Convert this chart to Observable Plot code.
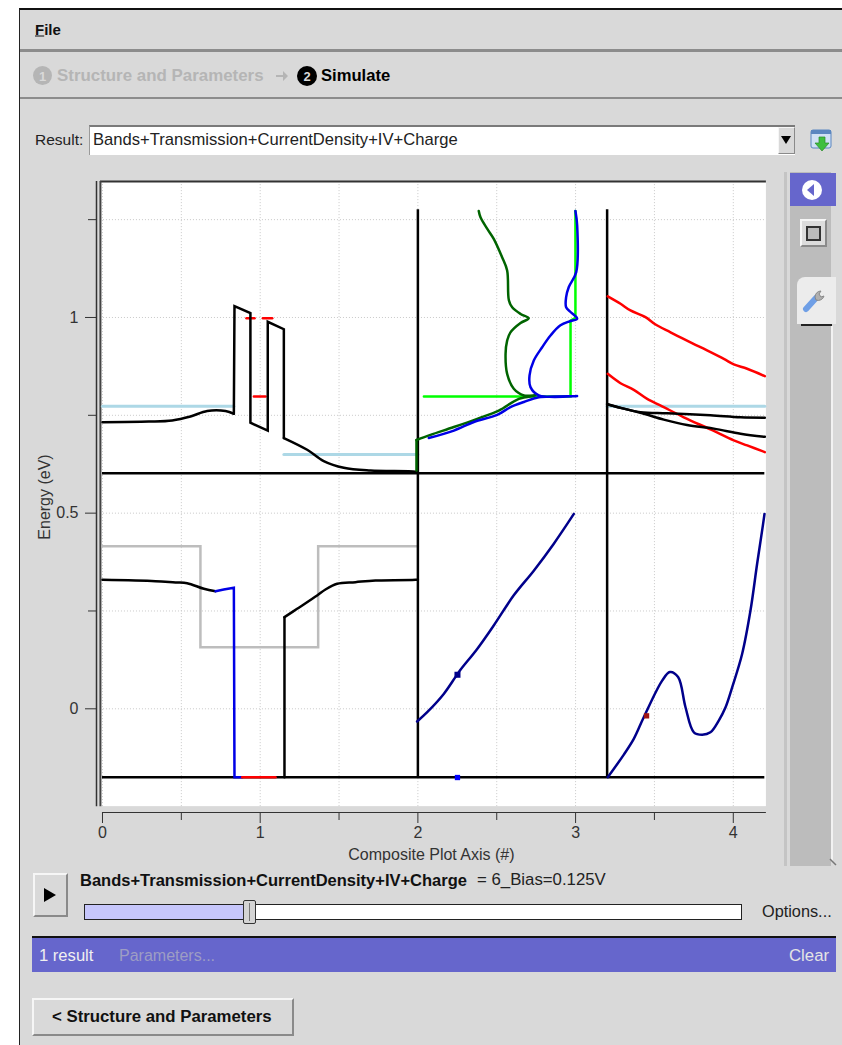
<!DOCTYPE html>
<html>
<head>
<meta charset="utf-8">
<script src="https://cdn.jsdelivr.net/npm/d3@7"></script>
<script src="https://cdn.jsdelivr.net/npm/@observablehq/plot@0.6"></script>
<style>
html,body{margin:0;padding:0;background:#fff;}
body{width:842px;height:1045px;overflow:hidden;position:relative;font-family:"Liberation Sans",Arimo,Helvetica,Arial,sans-serif;color:#222;}
.a{position:absolute;white-space:nowrap;}
.t{position:absolute;white-space:nowrap;line-height:1;transform:translateY(-50%);}
.btn{position:absolute;box-sizing:border-box;background:#d9d9d9;border:2px solid;border-color:#f6f6f6 #8a8a8a #8a8a8a #f6f6f6;}
#chart{position:absolute;left:0;top:160px;}
#chart svg{background:transparent;display:block;}
</style>
</head>
<body>
<div class="a" style="left:19px;top:8px;width:823px;height:1037px;background:#d9d9d9;border-left:1px solid #222;border-top:2px solid #111;box-sizing:border-box;"></div>

<!-- menu and wizard -->
<div class="t" style="left:35px;top:29px;font-size:15px;font-weight:bold;color:#111;"><u>F</u>ile</div>
<div class="a" style="left:20px;top:49px;width:822px;height:3px;background:#8c8c8c;"></div>
<div class="a" style="left:33px;top:66px;width:19px;height:19px;border-radius:50%;background:#b5b5b5;"></div>
<div class="t" style="left:33px;top:76px;width:19px;text-align:center;font-size:13px;font-weight:bold;color:#d9d9d9;">1</div>
<div class="t" style="left:57px;top:76px;font-size:16.9px;font-weight:bold;color:#b5b5b5;">Structure and Parameters</div>
<svg class="a" style="left:275px;top:70px;" width="14" height="12"><path d="M1 5h7V1l5 5-5 5V7H1z" fill="#b5b5b5"/></svg>
<div class="a" style="left:297px;top:66px;width:20px;height:20px;border-radius:50%;background:#000;"></div>
<div class="t" style="left:297px;top:76px;width:20px;text-align:center;font-size:13px;font-weight:bold;color:#d9d9d9;">2</div>
<div class="t" style="left:321px;top:76px;font-size:16.6px;font-weight:bold;color:#000;">Simulate</div>
<div class="a" style="left:20px;top:97px;width:822px;height:2px;background:#8c8c8c;"></div>

<!-- result selector -->
<div class="t" style="left:35px;top:140px;font-size:15.5px;">Result:</div>
<div class="a" style="left:89px;top:125px;width:706px;height:30px;background:#fff;border-top:2px solid #7a7a7a;border-left:1px solid #9a9a9a;box-sizing:border-box;"></div>
<div class="t" style="left:93px;top:140px;font-size:16.6px;">Bands+Transmission+CurrentDensity+IV+Charge</div>
<div class="btn" style="left:778px;top:127px;width:17px;height:27px;border-width:1px;"></div>
<svg class="a" style="left:780px;top:135px;" width="12" height="10"><path d="M1 1h10L6 9z" fill="#000"/></svg>
<svg class="a" style="left:810px;top:129px;" width="23" height="24"><rect x="1" y="1" width="20" height="18" rx="2" fill="#cfe0f5" stroke="#5a86c0"/><rect x="1" y="1" width="20" height="4" fill="#5a86c0"/><path d="M9 8h6v6h4l-7 8-7-8h4z" fill="#3fbf3f" stroke="#2a8a2a" stroke-width=".7"/></svg>

<!-- right side tool panel -->
<div class="a" style="left:784px;top:172px;width:3px;height:694px;background:#c4c4c4;"></div>
<div class="a" style="left:790px;top:172px;width:41px;height:694px;background:#bcbcbc;"></div>
<div class="a" style="left:831px;top:326px;width:1.5px;height:535px;background:#f2f2f2;"></div>
<svg class="a" style="left:829px;top:858px;" width="9" height="9"><path d="M1 1L7 7" stroke="#777" stroke-width="1.5"/></svg>
<div class="a" style="left:790px;top:173px;width:46px;height:33px;background:#6666cc;"></div>
<svg class="a" style="left:802px;top:180px;" width="20" height="20"><circle cx="10" cy="10" r="10" fill="#fff"/><path d="M12 4v12L5 10z" fill="#6666cc"/></svg>
<div class="btn" style="left:800px;top:219px;width:27px;height:28px;background:#dcdcdc;"></div>
<div class="a" style="left:806px;top:226px;width:11px;height:11px;border:2px solid #333;background:#bbb;"></div>
<div class="a" style="left:797px;top:277px;width:39px;height:47px;background:#ececec;border-top-left-radius:8px;"></div>
<div class="a" style="left:801px;top:324px;width:31px;height:2px;background:#222;"></div>
<svg class="a" style="left:802px;top:287px;" width="26" height="26"><path d="M4 22 L14 11" stroke="#6f9fe6" stroke-width="6" stroke-linecap="round"/><path d="M13 10 a6 6 0 0 1 6-6 l-2 3 2 3 3-1 a6 6 0 0 1-8 4z" fill="#b0b0b0" stroke="#888"/></svg>

<div id="chart"></div>

<!-- animation controls -->
<div class="btn" style="left:33px;top:873px;width:35px;height:44px;"></div>
<svg class="a" style="left:43px;top:887px;" width="14" height="16"><path d="M1 1l12 7-12 7z" fill="#000"/></svg>
<div class="t" style="left:80px;top:880px;font-size:16.5px;font-weight:bold;color:#111;">Bands+Transmission+CurrentDensity+IV+Charge</div>
<div class="t" style="left:477px;top:880px;font-size:16.8px;">= 6_Bias=0.125V</div>
<div class="a" style="left:84px;top:904px;width:658px;height:16px;background:#fff;border:1px solid #222;box-sizing:border-box;"></div>
<div class="a" style="left:85px;top:905px;width:158px;height:14px;background:#c6c6fb;"></div>
<div class="a" style="left:243px;top:900px;width:13px;height:24px;background:#d4d4d4;border:1px solid #333;box-sizing:border-box;border-radius:2px;"></div>
<div class="a" style="left:249px;top:903px;width:1px;height:18px;background:#777;"></div>
<div class="t" style="left:762px;top:911px;font-size:16.3px;">Options...</div>
<div class="a" style="left:32px;top:936px;width:804px;height:36px;background:#6666cc;border-top:2px solid #111;box-sizing:border-box;"></div>
<div class="t" style="left:39px;top:956px;font-size:16.6px;color:#f0f0f0;">1 result</div>
<div class="t" style="left:119px;top:956px;font-size:16px;color:#9d9dc4;">Parameters...</div>
<div class="t" style="left:789px;top:956px;font-size:16.8px;color:#e4e4e4;">Clear</div>
<div class="btn" style="left:32px;top:998px;width:262px;height:38px;"></div>
<div class="t" style="left:52px;top:1017px;font-size:16.8px;font-weight:bold;color:#111;">&lt; Structure and Parameters</div>

<script>
// --- axis ticks
const xTicks = [0, 0.5, 1, 1.5, 2, 2.5, 3, 3.5, 4];
const yTicks = [0, 0.25, 0.5, 0.75, 1, 1.25];
const xLabels = [0, 1, 2, 3, 4];
const yLabels = [0, 0.5, 1];
const xMinor = [0.5, 1.5, 2.5, 3.5];
const yMinor = [0.25, 0.75, 1.25];

// --- panel extents (data units)
const xOuter = -0.038, xInner = -0.013, xMax = 4.21;
const yAxisLine = -0.265, yFloor = -0.25, yCeil = 1.3475;
const refConduction = 0.602, refValence = -0.175, dividerTop = 1.275;
const dividers = [2, 3.2];

// --- band diagram, conduction band
const cbLeadX = [0, 0.294, 0.442, 0.558, 0.664, 0.780, 0.833];
const cbLeadY = [0.7325, 0.734, 0.737, 0.747, 0.761, 0.761, 0.754];
const cbBarrierX = [0.833, 0.837, 0.938, 0.938, 1.048, 1.048, 1.150, 1.150];
const cbBarrierY = [0.754, 1.029, 1.011, 0.731, 0.711, 0.989, 0.970, 0.692];
const cbTailX = [1.150, 1.298, 1.403, 1.530, 1.699, 1.985, 2];
const cbTailY = [0.692, 0.662, 0.633, 0.616, 0.609, 0.606, 0.604];

// --- band diagram, valence band pieces
const vbLeftX = [0, 0.336, 0.463, 0.537, 0.643, 0.717];
const vbLeftY = [0.3295, 0.3262, 0.3228, 0.3211, 0.3066, 0.3006];
const vbBlueX = [0.717, 0.769, 0.833, 0.837, 0.886];
const vbBlueY = [0.3006, 0.3049, 0.3092, -0.1747, -0.1747];
const vbRedX = [0.886, 1.097];
const vbRedY = [-0.1747, -0.1747];
const vbWallX = [1.154, 1.154];
const vbWallY = [-0.1747, 0.2342];
const vbRightX = [1.154, 1.234, 1.361, 1.414, 1.488, 1.604, 1.731, 1.985, 2];
const vbRightY = [0.2342, 0.2555, 0.2896, 0.3049, 0.3194, 0.3236, 0.3279, 0.3295, 0.3295];

// --- doping step profile
const dopeX = [0, 0.621, 0.621, 1.3676, 1.3676, 2];
const dopeY = [0.4156, 0.4156, 0.1575, 0.1575, 0.4156, 0.4156];

// --- Fermi levels
const fermiA = {x: [0, 0.833], y: [0.773, 0.773]};
const fermiB = {x: [1.15, 2], y: [0.650, 0.650]};
const fermiC = {x: [3.2, 4.2], y: [0.773, 0.773]};

// --- resonance levels
const levelA = {x: [0.913, 0.964], y: [0.998, 0.998]};
const levelB = {x: [1.017, 1.076], y: [0.998, 0.998]};
const levelC = {x: [0.960, 1.034], y: [0.798, 0.798]};

// --- transmission panel
const transStemX = [1.991, 1.991];
const transStemY = [0.609, 0.687];
const transDarkX = [1.991, 2.080, 2.228, 2.376, 2.513, 2.640, 2.746, 2.672, 2.608, 2.566, 2.556, 2.566, 2.587, 2.651, 2.703, 2.651, 2.598, 2.577, 2.566, 2.534, 2.481, 2.439, 2.397, 2.386];
const transDarkY = [0.687, 0.700, 0.720, 0.741, 0.762, 0.792, 0.801, 0.801, 0.818, 0.856, 0.907, 0.941, 0.962, 0.986, 0.998, 1.009, 1.026, 1.044, 1.120, 1.154, 1.201, 1.227, 1.256, 1.272];
const transLimeX = [2.038, 2.968, 2.968, 2.999, 2.999];
const transLimeY = [0.798, 0.798, 0.992, 0.999, 1.272];
const transBlueX = [2.069, 2.228, 2.355, 2.503, 2.587, 2.672, 2.767, 3.010, 2.767, 2.714, 2.708, 2.735, 2.788, 2.841, 2.904, 2.968, 3.010, 2.968, 2.940, 2.940, 2.957, 3.004, 3.010, 2.999];
const transBlueY = [0.692, 0.711, 0.733, 0.751, 0.771, 0.784, 0.796, 0.799, 0.801, 0.822, 0.852, 0.890, 0.924, 0.954, 0.980, 0.991, 0.997, 1.014, 1.026, 1.052, 1.078, 1.116, 1.235, 1.272];

// --- current density panel
const jTopX = [3.204, 3.285, 3.348, 3.443, 3.507, 3.602, 3.792, 3.940, 4.003, 4.088, 4.200];
const jTopY = [1.054, 1.035, 1.018, 1.001, 0.982, 0.962, 0.924, 0.894, 0.880, 0.869, 0.850];
const jLowX = [3.204, 3.285, 3.369, 3.454, 3.549, 3.686, 3.855, 4.003, 4.088, 4.200];
const jLowY = [0.856, 0.832, 0.815, 0.792, 0.773, 0.745, 0.714, 0.686, 0.673, 0.656];
const jBlackAX = [3.200, 3.285, 3.412, 3.581, 3.855, 4.046, 4.200];
const jBlackAY = [0.779, 0.769, 0.758, 0.755, 0.750, 0.745, 0.744];
const jBlackBX = [3.200, 3.306, 3.433, 3.559, 3.707, 3.877, 4.046, 4.200];
const jBlackBY = [0.778, 0.767, 0.754, 0.739, 0.725, 0.716, 0.703, 0.695];

// --- I-V curves
const ivMidX = [1.995, 2.059, 2.164, 2.238, 2.270, 2.376, 2.481, 2.608, 2.735, 2.862, 2.989];
const ivMidY = [-0.0325, -0.0086, 0.038, 0.081, 0.0996, 0.153, 0.213, 0.290, 0.353, 0.422, 0.498];
const ivRightX = [3.204, 3.306, 3.369, 3.433, 3.549, 3.598, 3.650, 3.697, 3.750, 3.803, 3.855, 3.908, 3.951, 3.993, 4.056, 4.109, 4.151, 4.183, 4.198];
const ivRightY = [-0.175, -0.117, -0.077, -0.021, 0.072, 0.094, 0.081, 0.004, -0.060, -0.066, -0.060, -0.030, 0.004, 0.055, 0.140, 0.251, 0.370, 0.456, 0.498];

// --- current-bias markers
const markMid = [[2.251, 0.087]];
const markFloor = [[2.251, -0.1756]];
const markRight = [[3.450, -0.018]];

const pts = (xs, ys) => d3.zip(xs, ys);
const line = (xs, ys, stroke, strokeWidth = 2.5) =>
  Plot.line(pts(xs, ys), {x: d => d[0], y: d => d[1], stroke, strokeWidth, strokeLinejoin: "miter", strokeMiterlimit: 3});
const smooth = (xs, ys, stroke, strokeWidth = 2.5) =>
  Plot.line(pts(xs, ys), {x: d => d[0], y: d => d[1], stroke, strokeWidth, curve: "catmull-rom"});
const seg = (s, stroke, w = 2.5) => line(s.x, s.y, stroke, w);
const square = (d, fill, r) => Plot.dot(d, {x: d => d[0], y: d => d[1], symbol: "square", r, fill, stroke: "none"});

const C = {black: "#000", grey: "#bdbdbd", light: "#add8e6", red: "#ff0000", blue: "#0000e6", navy: "#00008b", lime: "#00ff00", dark: "#006400"};

const chart = Plot.plot({
  width: 800,
  height: 720,
  marginLeft: 96,
  marginRight: 34.1,
  marginTop: 21,
  marginBottom: 68,
  style: {fontFamily: '"Liberation Sans", Arial, sans-serif', background: "transparent", color: "#333", fontSize: "16px", overflow: "visible"},
  x: {domain: [xOuter, xMax]},
  y: {domain: [yAxisLine, yCeil]},
  marks: [
    Plot.rect([0], {x1: xInner, x2: xMax, y1: yFloor, y2: yCeil, fill: "#fff"}),
    Plot.ruleX(xTicks, {y1: yFloor, y2: yCeil, stroke: "#c8c8c8", strokeDasharray: "1,2"}),
    Plot.ruleY(yTicks, {x1: xInner, x2: xMax, stroke: "#c8c8c8", strokeDasharray: "1,2"}),
    // frame lines
    Plot.ruleY([yCeil], {x1: xInner, x2: xMax, stroke: "#333", strokeWidth: 2}),
    Plot.ruleX([xOuter], {y1: yFloor, y2: yCeil, stroke: "#333", strokeWidth: 1.5}),
    Plot.ruleX([xInner], {y1: yFloor, y2: yCeil, stroke: "#444", strokeWidth: 2}),
    Plot.ruleY([yAxisLine], {x1: 0, x2: xMax, stroke: "#333", strokeWidth: 1}),
    // series
    line(dopeX, dopeY, C.grey),
    seg(fermiA, C.light, 3), seg(fermiB, C.light, 3), seg(fermiC, C.light, 3),
    Plot.ruleY([refConduction, refValence], {x1: 0, x2: 4.2, stroke: C.black, strokeWidth: 2.5}),
    Plot.ruleX(dividers, {y1: refValence, y2: dividerTop, stroke: C.black, strokeWidth: 2.5}),
    seg(levelA, C.red), seg(levelB, C.red), seg(levelC, C.red),
    smooth(cbLeadX, cbLeadY, C.black),
    line(cbBarrierX, cbBarrierY, C.black),
    smooth(cbTailX, cbTailY, C.black),
    smooth(vbLeftX, vbLeftY, C.black),
    line(vbWallX, vbWallY, C.black),
    smooth(vbRightX, vbRightY, C.black),
    line(vbBlueX, vbBlueY, C.blue),
    line(vbRedX, vbRedY, C.red),
    line(transLimeX, transLimeY, C.lime),
    line(transStemX, transStemY, C.dark),
    smooth(transDarkX, transDarkY, C.dark),
    smooth(transBlueX, transBlueY, C.blue),
    smooth(jTopX, jTopY, C.red),
    smooth(jLowX, jLowY, C.red),
    smooth(jBlackAX, jBlackAY, C.black),
    smooth(jBlackBX, jBlackBY, C.black),
    smooth(ivMidX, ivMidY, C.navy),
    smooth(ivRightX, ivRightY, C.navy),
    square(markMid, "#00008b", 3.4),
    square(markFloor, "#0000ff", 3),
    square(markRight, "#a01414", 3),
    // axes: short unlabelled minor ticks, longer labelled major ticks
    Plot.axisX({ticks: xMinor, tickSize: 8, stroke: "#333", tickFormat: () => "", label: null}),
    Plot.axisY({ticks: yMinor, tickSize: 8, stroke: "#333", tickFormat: () => "", label: null}),
    Plot.axisX({
      ticks: xLabels, tickSize: 11, tickPadding: 3, stroke: "#333", fill: "#333", tickFormat: d => String(d),
      label: "Composite Plot Axis (#)", labelAnchor: "center", labelOffset: 47, labelArrow: "none"
    }),
    Plot.axisY({
      ticks: yLabels, tickSize: 11, tickPadding: 7, stroke: "#333", fill: "#333", tickFormat: d => String(d),
      label: "Energy (eV)", labelAnchor: "center", labelOffset: 58, labelArrow: "none"
    })
  ]
});
document.getElementById("chart").append(chart);
</script>
</body>
</html>
